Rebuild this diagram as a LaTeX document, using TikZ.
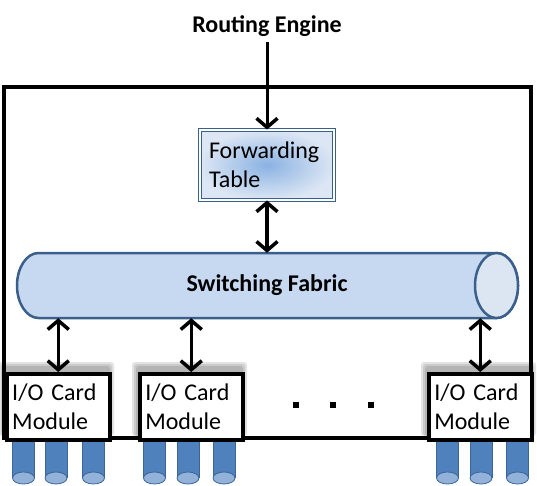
\documentclass[tikz,border=0pt]{standalone}
\usepackage{fontspec}
\setmainfont{Carlito}
\usetikzlibrary{arrows.meta}
\definecolor{cylfill}{HTML}{C6D9F1}
\definecolor{capfill}{HTML}{DCE6F2}
\definecolor{cylline}{HTML}{3A5F8B}
\definecolor{portfill}{HTML}{4F81BD}
\definecolor{portline}{HTML}{3B6597}
\definecolor{portcap}{HTML}{92B2DA}
\definecolor{ftin}{HTML}{8AB2E2}
\definecolor{ftout}{HTML}{DCE6F4}
\begin{document}
\begin{tikzpicture}[x=1pt,y=1pt,
  txt/.style={font=\fontsize{24}{29}\selectfont},
  btxt/.style={font=\fontsize{24}{29}\selectfont\bfseries},
  barb/.tip={Straight Barb[length=9pt,width=21pt,line width=3.5pt]},
  dbl/.style={line width=3.5pt,barb-barb},
  one/.style={line width=3pt,-barb},
  ftable/.style={draw=cylline,line width=0.8pt,double=white,double distance=1.6pt,
    inner color=ftin,outer color=ftout,minimum width=134pt,minimum height=70pt,
    inner xsep=9pt,text width=116pt,align=left,inner ysep=0pt,txt},
  card/.style={draw=black,line width=3.5pt,fill=white,minimum width=103pt,minimum height=66pt,
    inner xsep=5.5pt,text width=92pt,align=left,inner ysep=0pt,txt,anchor=north west},
  shade/.style={black,opacity=0.11,rounded corners=3pt}
]
\useasboundingbox (0,0) rectangle (537,-485);

% ports
\foreach \cx in {23.5,56,93.5,154.5,188,224,447.5,481,517.5}{
  \fill[portfill] (\cx-11,-436) rectangle (\cx+11,-478);
  \draw[portline,line width=0.8pt] (\cx-11,-436) -- (\cx-11,-478);
  \draw[portline,line width=0.8pt] (\cx+11,-436) -- (\cx+11,-478);
  \filldraw[fill=portcap,draw=portline,line width=0.8pt] (\cx,-478) ellipse[x radius=11,y radius=6];
}

% outer frame
\draw[line width=4.5pt] (4,-87) rectangle (531,-438);

% switching fabric cylinder
\filldraw[fill=cylfill,draw=cylline,line width=2.5pt]
  (496.5,-253) -- (38.5,-253) arc[start angle=90,end angle=270,x radius=21.5,y radius=32.5]
  -- (496.5,-318) arc[start angle=-90,end angle=90,x radius=21.5,y radius=32.5] -- cycle;
\filldraw[fill=capfill,draw=cylline,line width=2.5pt] (496.5,-285.5) ellipse[x radius=21.5,y radius=32.5];
\node[btxt,inner sep=0pt,minimum width=480pt,minimum height=65pt] (fab) at (267,-285.5) {Switching Fabric};

% routing engine and forwarding table
\node[btxt] (re) at (267,-26) {Routing Engine};
\node[ftable] (ft) at (267,-165) {Forwarding\\Table};
\draw[one] ([yshift=-2pt]re.south) -- (ft.north);
\draw[dbl] (ft.south) -- (ft.south |- fab.north);

% card shadows
\foreach \xa in {5,138,427}{
  \foreach \e in {0,2,4}{
    \fill[shade] (\xa-2-\e,-366+\e) rectangle (\xa+105+\e,-436);
  }
}

% I/O cards
\node[card] (c1) at (5,-372) {I/O Card\\Module};
\node[card] (c2) at (138,-372) {I/O Card\\Module};
\node[card] (c3) at (427,-372) {I/O Card\\Module};

\draw[dbl] (fab.south -| c1.north) -- (c1.north);
\draw[dbl] (fab.south -| c2.north) -- (c2.north);
\draw[dbl] (fab.south -| c3.north) -- (c3.north);

% dots
\foreach \dx in {296,333,371}{
  \fill (\dx-3,-402) rectangle (\dx+3,-408);
}
\end{tikzpicture}
\end{document}
